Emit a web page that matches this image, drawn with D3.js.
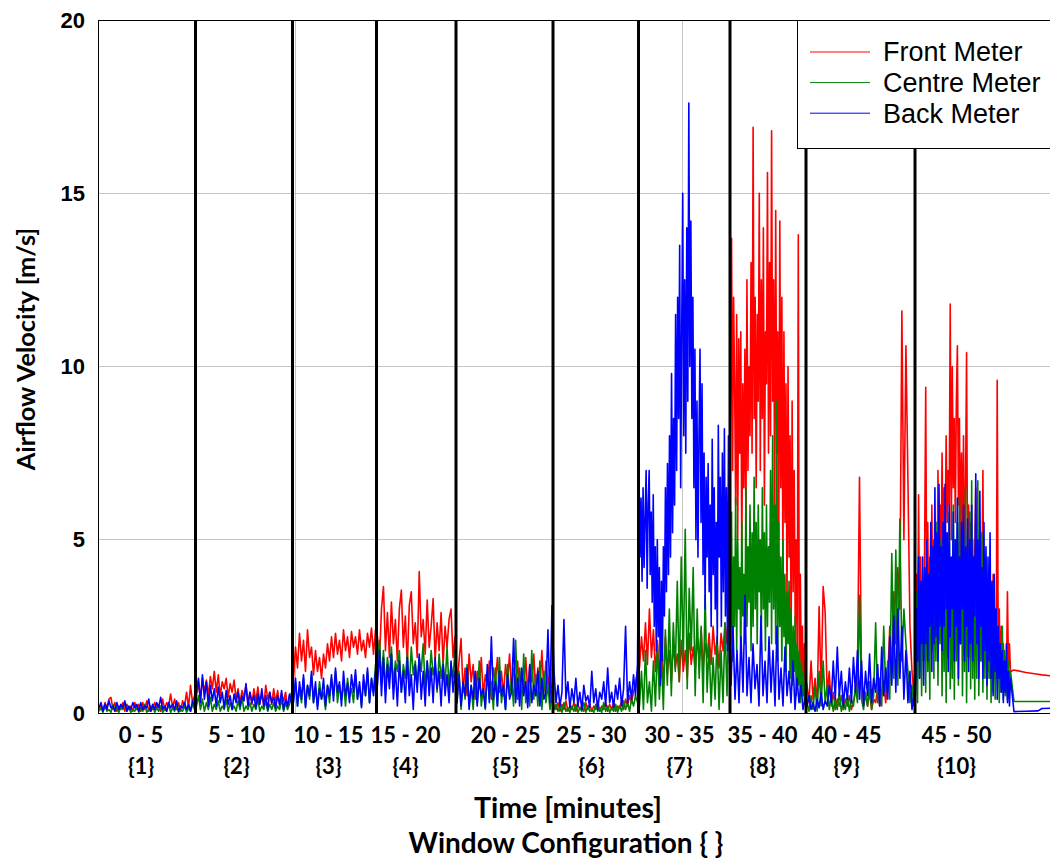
<!DOCTYPE html>
<html><head><meta charset="utf-8">
<script src="https://cdn.jsdelivr.net/npm/d3@7"></script>
<style>body{margin:0;background:#fff;} svg{display:block}</style>
</head><body><svg id="c" width="1050" height="861"></svg>
<script>
// ---------- data ----------
const timeLabels = ["0 - 5","5 - 10","10 - 15","15 - 20","20 - 25","25 - 30","30 - 35","35 - 40","40 - 45","45 - 50"];
const configLabels = ["{1}","{2}","{3}","{4}","{5}","{6}","{7}","{8}","{9}","{10}"];
const labelTimes = [21.25, 69, 115, 153.5, 203.5, 246.5, 290.5, 332, 374, 429];
// edges of each window-configuration period (elapsed time units)
const segEdges = [0, 48.75, 97.25, 139.25, 179, 227.5, 270.25, 316, 354, 408.5, 456.5];
const gridTimes = [98.5, 292];
const yTicks = [0, 5, 10, 15, 20];

const front = [
 [0.1,0.25,0.05,0.3,0.15,0.4,0.45,0.1,0.3,0.05,0.2,0.1,0.3,0.05,0.25,0.1,0.2,0.05,0.3,0.1,0.25,0.05,0.3,0.1,0.35,0.05,0.2,0.1,0.3,0.15,0.25,0.05,0.4,0.1,0.3,0.2,0.55,0.15,0.4,0.1,0.3,0.05,0.35,0.2,0.6,0.15,0.8,0.3,0.5],
 [0.5,0.9,0.4,1.0,0.6,0.95,0.5,1.05,0.7,1.2,0.6,1.1,0.5,0.9,0.7,1.0,0.45,0.85,0.6,0.95,0.4,0.7,0.3,0.65,0.45,0.8,0.3,0.6,0.25,0.7,0.35,0.75,0.3,0.55,0.2,0.8,0.4,0.6,0.25,0.7,0.3,0.65,0.2,0.55,0.35,0.6,0.15,0.5,0.3],
 [1.0,1.9,1.3,2.3,1.5,2.1,1.2,2.4,1.6,1.9,1.1,1.8,1.2,1.6,1.0,1.7,1.3,2.0,1.5,2.2,1.6,2.3,1.7,2.1,1.5,2.4,1.8,2.2,1.6,2.35,1.9,2.2,1.7,2.4,1.8,2.1,1.6,2.3,1.9,2.45,1.7,2.4],
 [2.2,1.5,3.0,3.65,1.8,2.9,1.6,3.2,2.0,2.7,1.5,3.0,3.55,1.9,2.8,1.4,3.1,3.5,2.0,2.6,1.6,4.08,2.2,2.7,1.7,3.26,1.9,2.5,3.3,1.5,2.6,1.8,2.9,1.4,2.5,1.9,2.7,3.0,1.6,2.2],
 [0.8,1.5,2.15,0.6,1.3,0.5,1.7,0.9,1.4,0.4,1.2,0.7,1.6,0.5,1.1,0.8,1.5,0.4,1.3,0.9,1.6,0.6,1.2,0.5,1.4,0.9,1.7,0.6,1.3,0.8,1.5,0.5,1.2,0.7,1.6,0.6,1.4,0.9,1.7,0.5,1.3,0.7,1.8,0.6,1.5,0.8,1.2,0.5],
 [0.2,0.1,0.3,0.05,0.25,0.1,0.35,0.05,0.2,0.1,0.3,0.05,0.25,0.1,0.2,0.05,0.3,0.1,0.25,0.05,0.2,0.1,0.35,0.05,0.2,0.1,0.3,0.05,0.25,0.1,0.3,0.05,0.2,0.15,0.35,0.1,0.4,0.2,0.5,0.3,0.6,0.9,1.2],
 [1.3,2.2,1.5,2.6,1.4,3.0,1.6,2.4,1.2,2.1,1.0,1.9,0.8,2.2,1.1,1.8,0.9,2.0,1.3,1.7,0.9,2.1,1.2,1.8,1.0,2.3,1.4,1.9,1.2,2.2,1.5,2.4,1.3,2.0,1.6,2.3,1.4,2.5,1.7,2.1,1.3,2.3,1.8,2.6,2.0,3.5],
 [9.0,13.7,7.0,12.0,9.5,6.0,11.5,5.0,10.8,7.5,11.0,4.5,9.5,6.5,10.5,5.5,12.5,7.0,10.0,8.0,13.0,7.5,16.9,8.5,12.0,6.5,11.5,9.0,15.0,7.0,12.5,8.5,14.0,6.0,11.0,9.5,15.6,7.5,13.0,8.0,16.8,9.0,12.5,6.0,14.5,7.5,11.0,5.0,14.2,6.5,12.0,4.0,11.0,5.5,9.5,3.0,10.0,4.5,8.0,2.0,9.0,3.5,7.0,2.5,5.0,1.5,13.8,1.0,4.0,0.8,2.5,0.5,2.0,1.0],
 [0.8,0.3,1.5,0.4,1.0,0.2,3.07,0.6,3.65,2.9,0.5,1.2,0.2,0.6,0.1,0.4,0.2,0.5,0.1,0.4,0.2,0.5,0.1,0.3,0.6,1.2,6.8,1.0,0.3,0.5,0.2,0.6,0.1,0.4,0.3,0.7,0.2,0.5,0.8,0.3,1.0,2.5,1.2,3.5,2.0,4.2,3.0,11.6,5.0,10.6,6.7,2.5,1.2,0.5],
 [2.0,4.0,1.5,6.3,2.0,4.5,1.5,3.5,2.5,5.0,9.4,3.0,5.5,2.0,4.5,3.0,6.0,2.5,5.0,3.5,4.5,3.0,7.0,3.5,6.0,4.0,7.5,4.5,6.5,5.0,8.0,5.5,7.0,6.0,11.8,5.0,10.0,6.5,8.5,5.5,9.0,10.6,6.0,8.5,4.5,7.5,5.0,8.0,4.0,6.5,10.4,4.0,6.0,3.0,5.5,2.5,5.0,3.0,4.5,6.5,2.5,4.5,2.0,5.0,1.5,3.5,7.0,2.0,4.0,1.5,3.5,1.2,3.0,1.0,2.8,1.5,4.0,1.0,3.0,1.2,9.6,1.5,3.0,1.0,2.5,0.8,2.0,1.0,1.5,0.8,3.5,1.3,2.0,1.2]
];
const centre = [
 [0.05,0.15,0.02,0.2,0.05,0.1,0.02,0.25,0.05,0.15,0.02,0.2,0.1,0.3,0.05,0.15,0.02,0.1,0.05,0.2,0.02,0.15,0.05,0.25,0.02,0.1,0.05,0.2,0.02,0.15,0.05,0.2,0.02,0.1,0.05,0.25,0.02,0.15,0.05,0.2,0.02,0.1,0.05,0.2,0.02,0.15,0.05,0.25,0.1],
 [0.2,0.5,0.1,0.4,0.05,0.3,0.1,0.45,0.05,0.25,0.1,0.35,0.05,0.2,0.1,0.4,0.05,0.3,0.1,0.2,0.05,0.35,0.1,0.45,0.05,0.2,0.1,0.3,0.05,0.25,0.1,0.4,0.05,0.2,0.1,0.35,0.05,0.25,0.1,0.3,0.05,0.2,0.1,0.4,0.05,0.3,0.1,0.25,0.6],
 [0.4,0.9,0.2,0.7,0.3,1.0,0.2,0.8,0.4,1.1,0.3,0.7,0.2,0.9,0.4,0.6,0.1,0.8,0.3,1.0,0.5,1.2,0.3,0.8,0.4,0.9,0.2,1.0,0.5,0.7,0.3,1.1,0.4,0.8,0.2,0.9,0.5,1.2,0.3,1.0,0.6,1.4],
 [1.5,2.1,0.9,1.8,0.7,1.6,1.0,1.9,0.8,1.5,1.2,1.8,0.6,1.4,1.0,1.7,0.7,1.9,1.1,1.5,0.8,1.6,1.2,2.0,0.7,1.5,0.9,1.8,1.1,1.4,0.6,1.7,1.0,1.5,0.8,1.9,0.7,1.4,1.0,1.8],
 [0.3,1.2,0.1,0.9,0.4,1.4,0.2,0.8,0.1,1.1,0.3,1.5,0.2,0.7,0.1,1.2,0.4,0.9,0.1,1.3,0.2,1.6,0.3,0.8,0.1,1.4,0.5,1.0,0.2,2.1,0.4,1.3,0.1,1.7,0.3,0.9,0.2,1.8,0.4,1.1,0.2,1.5,0.1,1.2,0.3,0.8,0.1,0.5],
 [0.1,0.25,0.05,0.2,0.02,0.3,0.05,0.15,0.02,0.2,0.05,0.25,0.02,0.15,0.05,0.3,0.02,0.2,0.05,0.1,0.02,0.25,0.05,0.15,0.02,0.3,0.05,0.2,0.02,0.15,0.05,0.25,0.02,0.2,0.05,0.35,0.1,0.3,0.05,0.4,0.2,0.5,0.3],
 [0.2,1.2,0.1,1.8,0.3,0.9,0.05,1.5,0.2,2.0,0.4,1.6,0.1,2.4,0.8,3.0,0.5,2.6,1.2,3.8,0.9,4.5,1.5,5.3,0.7,3.6,1.8,4.2,0.5,3.0,1.0,2.5,0.3,3.4,0.6,2.0,0.2,1.6,0.4,2.2,0.1,1.8,0.3,2.6,0.5,3.5],
 [2.0,5.8,1.5,4.5,2.5,6.2,1.8,5.0,3.0,4.2,1.5,5.5,2.8,4.0,2.0,6.5,2.5,4.8,3.2,6.0,1.8,5.2,2.5,6.8,3.0,5.5,2.0,6.0,3.5,5.0,2.2,6.5,3.0,5.2,1.8,6.0,2.5,4.8,3.2,7.0,2.0,8.0,3.0,6.0,2.0,9.0,1.5,5.5,2.5,4.5,1.5,5.0,2.2,4.0,1.2,3.5,2.0,3.8,1.0,3.0,0.8,2.5,1.2,2.8,0.5,2.0,0.8,1.8,0.3,1.5,0.5,1.2,0.3,0.8],
 [0.3,0.05,0.5,0.1,0.8,0.05,1.2,0.2,1.5,0.3,0.8,0.1,0.5,0.05,0.4,0.1,0.6,0.05,0.3,0.1,0.5,0.05,0.4,0.2,0.8,0.3,3.4,0.4,0.1,0.6,0.2,0.9,0.1,0.5,2.6,0.3,1.0,0.2,2.5,0.6,1.5,0.4,4.6,1.0,4.7,0.8,5.6,1.5,3.0,2.0,1.2,0.3,0.8,0.2],
 [0.8,3.5,0.3,4.5,1.0,3.0,0.5,4.0,1.5,3.2,0.6,4.8,1.2,3.6,0.4,5.2,1.8,4.0,1.0,4.5,1.5,5.5,0.8,4.2,2.0,5.0,0.5,4.8,1.2,5.6,0.3,4.2,1.6,5.8,0.7,3.5,1.0,6.0,0.4,5.0,1.5,5.5,0.8,6.2,2.0,4.5,0.5,5.0,1.2,6.5,0.3,4.2,1.6,5.8,0.7,6.7,1.0,4.5,0.4,5.5,1.0,6.7,0.5,4.0,1.5,5.2,0.6,3.8,1.0,4.5,0.4,3.5,1.0,4.2,0.3,2.8,0.6,3.0,0.4,2.2,1.0,2.5,0.3,1.8,0.6,2.5,0.4,1.8,0.5,1.2,0.4,1.5,0.8,1.2]
];
const back = [
 [0.15,0.3,0.05,0.25,0.1,0.35,0.15,0.2,0.05,0.3,0.1,0.25,0.15,0.35,0.05,0.2,0.1,0.3,0.15,0.25,0.05,0.3,0.1,0.2,0.15,0.4,0.05,0.25,0.1,0.3,0.15,0.45,0.1,0.2,0.05,0.3,0.15,0.25,0.1,0.35,0.05,0.2,0.15,0.3,0.1,0.25,0.05,0.35,0.2],
 [0.6,1.0,0.3,1.1,0.4,0.9,0.2,0.8,0.35,0.7,0.2,0.75,0.3,0.6,0.15,0.65,0.25,0.5,0.1,0.55,0.3,0.6,0.2,0.5,0.35,0.85,0.2,0.6,0.3,0.5,0.15,0.55,0.25,0.7,0.2,0.5,0.1,0.6,0.3,0.45,0.15,0.5,0.25,0.65,0.1,0.4,0.2,0.55,0.3],
 [0.3,1.0,0.2,0.9,0.4,1.1,0.15,0.8,0.5,1.2,0.3,0.9,0.1,0.7,0.4,1.0,0.2,0.8,0.5,1.1,0.35,1.3,0.6,0.9,0.2,1.2,0.5,0.85,0.3,1.1,0.6,1.25,0.4,0.9,0.15,1.1,0.5,1.3,0.3,1.0,0.5,1.2],
 [0.8,1.8,0.5,1.6,0.3,1.4,0.7,1.7,0.4,1.3,0.2,1.5,0.6,1.2,0.3,1.6,0.5,1.1,0.1,1.4,0.6,1.7,0.4,1.2,0.2,1.5,0.5,1.3,0.3,1.6,0.7,1.2,0.2,1.4,0.5,1.1,0.3,1.5,0.6,1.2],
 [0.3,1.1,0.2,0.9,0.5,1.3,0.1,0.8,0.4,1.2,0.2,1.0,0.5,0.7,0.15,1.4,0.3,2.2,0.4,0.9,0.2,1.2,0.5,0.8,0.1,1.1,0.4,0.6,2.15,0.3,1.0,0.2,1.3,0.5,0.9,0.15,1.4,0.3,0.8,0.5,1.2,0.2,1.0,0.4,0.6,2.4,0.3,3.1],
 [1.2,0.3,0.8,0.2,0.6,2.7,0.4,0.9,0.15,0.7,0.3,1.0,0.2,0.6,0.1,0.8,0.35,0.5,0.15,1.2,0.3,0.7,0.1,0.6,0.4,0.9,0.2,1.3,0.3,0.6,0.15,0.8,0.4,1.0,0.2,0.7,2.5,0.3,0.9,0.4,1.1,0.5,1.4],
 [6.9,4.5,6.2,3.8,6.5,4.2,5.6,7.0,3.6,6.0,7.0,4.0,5.8,3.2,6.3,2.5,4.8,1.8,5.0,2.2,4.2,0.8,3.8,1.5,4.8,2.8,6.5,3.5,7.2,4.0,8.0,4.5,9.8,5.2,8.5,6.0,11.5,7.0,12.0,8.5,13.5,6.5,11.0,15.0,8.0,12.5,7.5,14.0,9.0,17.6,10.0,14.2,8.5,12.0,6.5,10.5,5.0,9.0,4.5,8.0,10.5,5.5,9.5,4.0,7.5,3.0,6.8,4.5,7.2,3.5,6.0,2.5,7.9,4.0,6.5,3.0,5.5,2.0,8.3,4.5,6.8,2.5,7.5,3.5,8.2,2.8,6.5,1.8,8.0,1.5],
 [0.8,2.5,0.4,1.8,0.3,2.2,0.6,3.4,0.5,1.6,0.3,2.0,0.7,1.4,0.2,2.8,0.5,1.5,0.3,2.2,0.6,1.8,0.2,2.5,0.4,1.3,0.2,1.9,0.5,1.2,0.3,1.5,0.1,1.0,0.3,0.8,0.1,0.4],
 [0.2,0.5,0.1,0.3,0.05,0.4,0.15,0.6,0.1,0.35,0.2,0.8,0.3,1.5,0.4,1.9,0.5,1.2,0.2,0.9,0.4,1.3,0.3,1.6,0.6,1.8,0.4,1.5,0.2,1.2,0.5,1.7,0.3,1.0,0.6,1.4,0.2,1.9,0.5,1.3,0.4,2.2,0.8,2.8,0.6,3.0,1.0,2.5,0.4,1.8,0.3,1.2,0.1,0.6],
 [0.5,3.0,1.5,4.5,1.0,3.8,2.0,4.5,0.8,4.2,2.0,5.0,1.5,4.0,2.5,5.5,1.2,4.8,2.0,6.5,2.2,5.2,1.5,6.6,2.5,4.8,1.8,5.5,2.5,6.6,3.0,5.2,1.2,6.0,2.2,4.5,3.0,5.8,1.5,5.0,2.5,6.2,1.0,4.5,2.0,5.5,3.0,6.0,1.5,4.8,2.5,5.6,1.2,5.0,2.0,6.0,1.5,4.5,2.8,6.9,2.0,5.0,1.0,6.4,2.5,4.2,1.0,5.5,1.8,4.8,0.8,4.5,1.5,5.2,1.0,3.8,0.5,4.0,1.2,3.0,0.4,2.5,1.0,2.0,0.6,1.8,0.3,1.5,0.6,2.0,0.3,1.2,0.2,1.0]
];
// readings after the last period
const tailTimes = [458, 464, 470, 472, 478, 486];
const frontTail = [1.24, 1.17, 1.12, 1.1, 1.06, 1.0];
const centreTail = [0.33, 0.33, 0.33, 0.33, 0.33, 0.33];
const backTail = [0.04, 0.05, 0.06, 0.13, 0.14, 0.15];

const seriesNames = ["Front Meter", "Centre Meter", "Back Meter"];
const seriesColors = ["#ff0000", "#008000", "#0000ff"];

// ---------- drawing ----------
const svg = d3.select("#c");
const L = 98, T = 20, B = 713, R = 1058;
const x = d3.scaleLinear().domain([0, 480]).range([L, R]);
const y = d3.scaleLinear().domain([0, 20]).range([B, T]);

svg.append("defs").append("clipPath").attr("id", "clip")
  .append("rect").attr("x", L).attr("y", T).attr("width", R - L).attr("height", B - T);

// grid
svg.append("g").selectAll("line").data(yTicks.filter(d => d > 0 && d < 20)).join("line")
  .attr("x1", L).attr("x2", R).attr("y1", d => y(d)).attr("y2", d => y(d))
  .attr("stroke", "#c4c4c4").attr("stroke-width", 1).attr("shape-rendering", "crispEdges");
svg.append("g").selectAll("line").data(gridTimes).join("line")
  .attr("x1", d => x(d)).attr("x2", d => x(d)).attr("y1", T).attr("y2", B)
  .attr("stroke", "#c4c4c4").attr("stroke-width", 1).attr("shape-rendering", "crispEdges");

function toPoints(segs, tT, tV) {
  const pts = [];
  segs.forEach((vals, k) => {
    const a = segEdges[k], b = segEdges[k + 1], n = vals.length;
    vals.forEach((v, j) => pts.push([a + (j + 0.5) * (b - a) / n, v]));
  });
  tT.forEach((t, i) => pts.push([t, tV[i]]));
  return pts;
}
const line = d3.line().x(d => x(d[0])).y(d => y(d[1]));
const series = [toPoints(front, tailTimes, frontTail), toPoints(centre, tailTimes, centreTail), toPoints(back, tailTimes, backTail)];
const gS = svg.append("g").attr("clip-path", "url(#clip)");
series.forEach((pts, i) => {
  gS.append("path").attr("d", line(pts)).attr("fill", "none")
    .attr("stroke", seriesColors[i]).attr("stroke-width", 1.6).attr("stroke-linejoin", "round");
});

// period separators
svg.append("g").selectAll("line").data(segEdges.slice(1, -1)).join("line")
  .attr("x1", d => x(d)).attr("x2", d => x(d)).attr("y1", T).attr("y2", B)
  .attr("stroke", "#000").attr("stroke-width", 3);

// frame
svg.append("path").attr("d", `M${R},${T}H${L}V${B}H${R}`).attr("fill", "none")
  .attr("stroke", "#000").attr("stroke-width", 1).attr("shape-rendering", "crispEdges");

// y axis
const yAxis = svg.append("g").attr("transform", `translate(${L},0)`)
  .call(d3.axisLeft(y).tickValues(yTicks).tickSize(0).tickPadding(13));
yAxis.select(".domain").remove();
yAxis.selectAll("text").attr("font-family", "'Liberation Sans', Arial, sans-serif")
  .attr("font-weight", "bold").attr("font-size", 22).attr("fill", "#000");

// x axis
const xAxis = svg.append("g").attr("transform", `translate(0,${B})`)
  .call(d3.axisBottom(x).tickValues(labelTimes).tickFormat((d, i) => timeLabels[i]).tickSize(0).tickPadding(14));
xAxis.select(".domain").remove();
xAxis.selectAll("text").attr("font-family", "Lato, sans-serif").attr("font-weight", "bold")
  .attr("font-size", 22).attr("fill", "#000");
xAxis.selectAll(".tick").append("text").text((d, i) => configLabels[i])
  .attr("y", 61).attr("font-family", "Lato, sans-serif").attr("font-weight", "bold")
  .attr("font-size", 22).attr("fill", "#000").attr("text-anchor", "middle");

// axis titles
const tf = "Lato, sans-serif";
svg.append("text").attr("x", 568).attr("y", 818).attr("text-anchor", "middle")
  .attr("font-family", tf).attr("font-weight", "bold").attr("font-size", 28.5).text("Time [minutes]");
svg.append("text").attr("x", 566).attr("y", 853).attr("text-anchor", "middle")
  .attr("font-family", tf).attr("font-weight", "bold").attr("font-size", 28).text("Window Configuration { }");
svg.append("text").attr("transform", "translate(35,349) rotate(-90)").attr("text-anchor", "middle")
  .attr("font-family", tf).attr("font-weight", "bold").attr("font-size", 25.3).text("Airflow Velocity [m/s]");

// legend
const lg = svg.append("g");
lg.append("rect").attr("x", 797.5).attr("y", 20.5).attr("width", 300).attr("height", 128)
  .attr("fill", "#fff").attr("stroke", "#000").attr("stroke-width", 1);
seriesNames.forEach((name, i) => {
  const yy = 52 + i * 30.6;
  lg.append("line").attr("x1", 810).attr("x2", 870).attr("y1", yy).attr("y2", yy)
    .attr("stroke", seriesColors[i]).attr("stroke-width", 1);
  lg.append("text").attr("x", 883).attr("y", yy).attr("dy", "0.35em")
    .attr("font-family", "'Liberation Sans', Arial, sans-serif").attr("font-size", 27).text(name);
});
</script></body></html>
